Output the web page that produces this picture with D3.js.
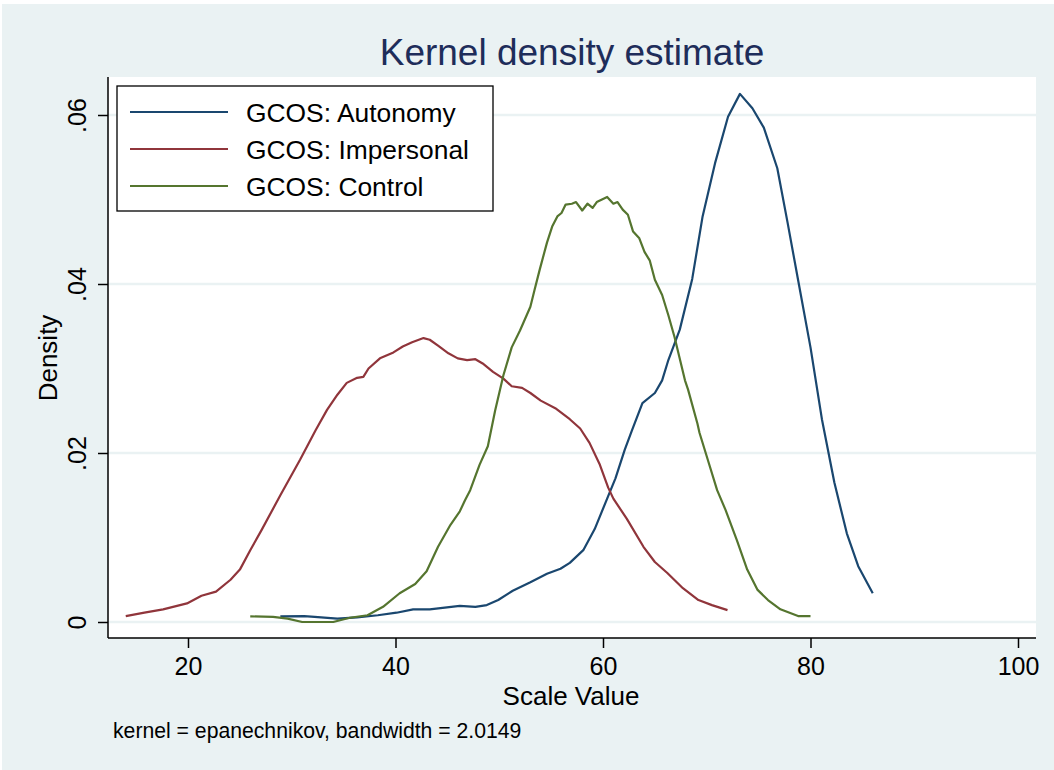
<!DOCTYPE html>
<html>
<head>
<meta charset="utf-8">
<script src="https://cdn.jsdelivr.net/npm/d3@7"></script>
<style>
  body { margin: 0; background: #fff; }
  text { font-family: "Liberation Sans", Arial, sans-serif; }
</style>
</head>
<body>
<script>
// tick values
var xTicks = [20, 40, 60, 80, 100];
var yTicks = [0, 0.02, 0.04, 0.06];
var yTickLabels = ["0", ".02", ".04", ".06"];

// series (scale value, density)
var autonomyX = [28.9, 31.2, 32.2, 34.4, 36.3, 38.3, 40.1, 41.7, 43.3, 46.2, 47.7, 48.8, 49.9, 51.3, 53.0,
    54.6, 55.9, 56.8, 58.1, 59.2, 60.4, 61.2, 62.1, 62.8, 63.8, 65.0, 65.7, 66.3, 67.4, 68.6, 69.6,
    70.8, 72.05, 73.2, 74.4, 75.5, 76.8, 77.8, 78.8, 80.0, 81.1, 82.3, 83.5, 84.6, 86.0];
var autonomyD = [0.00067, 0.0007, 0.0006, 0.0004, 0.00055, 0.0008, 0.0011, 0.0015, 0.0015, 0.0019, 0.0018, 0.002, 0.0026, 0.0037, 0.0047,
    0.0057, 0.0063, 0.007, 0.0085, 0.011, 0.0146, 0.017, 0.0204, 0.0227, 0.0259, 0.0271, 0.0286, 0.031, 0.0346, 0.0406, 0.048,
    0.0543, 0.0598, 0.0625, 0.0608, 0.0585, 0.0537, 0.0472, 0.0405, 0.0325, 0.024, 0.0165, 0.0105, 0.0066, 0.0034];

var impersonalX = [14.0, 15.8, 17.6, 19.9, 21.3, 22.7, 24.1, 25.0, 26.0, 27.1, 28.9, 30.8, 32.3, 33.4, 34.4,
    35.3, 36.3, 36.9, 37.4, 38.5, 39.8, 40.7, 41.6, 42.7, 43.3, 44.1, 45.1, 46.0, 46.9, 47.7, 48.4,
    49.4, 50.4, 51.2, 52.2, 53.0, 54.0, 55.4, 56.8, 57.8, 58.7, 59.7, 60.5, 61.0, 62.3, 63.9, 65.0,
    66.2, 67.7, 69.2, 70.5, 72.0];
var impersonalD = [0.0007, 0.0011, 0.0015, 0.0022, 0.0031, 0.0036, 0.005, 0.0062, 0.0085, 0.0109, 0.015, 0.0192, 0.0227, 0.0251, 0.0269,
    0.0283, 0.0289, 0.029, 0.03, 0.0312, 0.0319, 0.0326, 0.0331, 0.0336, 0.0334, 0.0327, 0.0318, 0.0312, 0.031, 0.0311, 0.0306,
    0.0296, 0.0288, 0.0279, 0.0277, 0.0271, 0.0262, 0.0253, 0.024, 0.0229, 0.0212, 0.0186, 0.0159, 0.0146, 0.0122, 0.0089, 0.0071,
    0.0058, 0.004, 0.0026, 0.002, 0.0014];

var controlX = [26.0, 28.2, 29.6, 31.0, 34.0, 35.6, 37.3, 38.8, 40.4, 41.9, 43.0, 44.1, 45.3, 46.2, 46.7,
    47.2, 48.1, 48.9, 49.6, 50.4, 51.2, 52.0, 53.0, 53.4, 53.9, 54.6, 55.1, 55.6, 56.0, 56.4, 57.0,
    57.4, 58.0, 58.5, 59.0, 59.4, 59.9, 60.4, 61.0, 61.4, 61.9, 62.4, 62.9, 63.5, 64.0, 64.5, 65.0,
    65.7, 66.3, 66.9, 67.9, 68.2, 69.1, 69.3, 70.1, 71.0, 71.8, 72.9, 73.9, 74.9, 75.9, 77.1, 78.8, 80.0];
var controlD = [0.00067, 0.0006, 0.0004, 0.0, 0.0, 0.0005, 0.0008, 0.0018, 0.0034, 0.0045, 0.006, 0.0089, 0.0115, 0.0131, 0.0144,
    0.0156, 0.0186, 0.0208, 0.025, 0.0292, 0.0325, 0.0345, 0.0373, 0.0393, 0.0417, 0.0449, 0.0468, 0.048, 0.0484, 0.0494, 0.0495,
    0.0497, 0.0487, 0.0495, 0.049, 0.0497, 0.05, 0.0503, 0.0495, 0.0497, 0.0488, 0.0482, 0.0462, 0.0454, 0.0438, 0.0428, 0.0405,
    0.0387, 0.0363, 0.0337, 0.0286, 0.0275, 0.0235, 0.0224, 0.0192, 0.0156, 0.0133, 0.0097, 0.0062, 0.0038, 0.0026, 0.0015, 0.0007, 0.0007];

var seriesNames = ["GCOS: Autonomy", "GCOS: Impersonal", "GCOS: Control"];
var seriesColors = ["#1a476f", "#90353b", "#55752f"];

var W = 1054, H = 770;
var plot = { left: 108, right: 1036, top: 77, bottom: 638 };

var svg = d3.select("body").append("svg")
    .attr("width", W)
    .attr("height", H);

// graph region background
svg.append("rect")
    .attr("x", 2).attr("y", 4)
    .attr("width", W - 2).attr("height", H - 4)
    .attr("fill", "#eaf2f3");

// plot region
svg.append("rect")
    .attr("x", plot.left).attr("y", plot.top)
    .attr("width", plot.right - plot.left).attr("height", plot.bottom - plot.top)
    .attr("fill", "#fff");

var x = d3.scaleLinear().domain([20, 100]).range([188, 1018]);
var y = d3.scaleLinear().domain([0, 0.06]).range([622, 115]);

// gridlines
svg.selectAll(".grid")
    .data(yTicks)
    .enter()
    .append("line")
    .attr("class", "grid")
    .attr("x1", plot.left).attr("x2", plot.right)
    .attr("y1", function(d) { return y(d); })
    .attr("y2", function(d) { return y(d); })
    .attr("stroke", "#eaf2f3")
    .attr("stroke-width", 2.5);

// curves
var series = [
    { x: autonomyX, d: autonomyD },
    { x: impersonalX, d: impersonalD },
    { x: controlX, d: controlD }
];
var line = d3.line()
    .x(function(p) { return x(p[0]); })
    .y(function(p) { return y(p[1]); });

series.forEach(function(s, i) {
    svg.append("path")
        .datum(d3.zip(s.x, s.d))
        .attr("d", line)
        .attr("fill", "none")
        .attr("stroke", seriesColors[i])
        .attr("stroke-width", 2.2)
        .attr("stroke-linejoin", "round");
});

// y axis
var yAxis = svg.append("g")
    .attr("transform", "translate(" + plot.left + ",0)")
    .call(d3.axisLeft(y).tickValues(yTicks).tickSize(10).tickPadding(0)
        .tickFormat(function(d, i) { return yTickLabels[i]; }));
yAxis.select(".domain").attr("d", "M0," + plot.top + "V" + plot.bottom).attr("stroke-width", 1.5);
yAxis.selectAll(".tick line").attr("stroke-width", 1.5);
yAxis.selectAll(".tick text")
    .attr("x", null).attr("dy", null)
    .attr("transform", "translate(-22,0) rotate(-90)")
    .attr("text-anchor", "middle")
    .style("font-size", "25px")
    .attr("fill", "#000");

// x axis
var xAxis = svg.append("g")
    .attr("transform", "translate(0," + plot.bottom + ")")
    .call(d3.axisBottom(x).tickValues(xTicks).tickSize(10).tickPadding(8));
xAxis.select(".domain").attr("d", "M" + plot.left + ",0H" + plot.right).attr("stroke-width", 1.5);
xAxis.selectAll(".tick line").attr("stroke-width", 1.5);
xAxis.selectAll(".tick text")
    .attr("y", null).attr("dy", null)
    .attr("transform", "translate(0,37)")
    .style("font-size", "25px")
    .attr("fill", "#000");
svg.selectAll(".tick text").attr("font-family", "Liberation Sans, Arial, sans-serif");

// titles
svg.append("text")
    .attr("x", 572).attr("y", 65)
    .attr("text-anchor", "middle")
    .style("font-size", "37px")
    .attr("fill", "#1e2d5a")
    .text("Kernel density estimate");

svg.append("text")
    .attr("x", 571).attr("y", 705)
    .attr("text-anchor", "middle")
    .style("font-size", "26px")
    .text("Scale Value");

svg.append("text")
    .attr("transform", "translate(57,358) rotate(-90)")
    .attr("text-anchor", "middle")
    .style("font-size", "26px")
    .text("Density");

svg.append("text")
    .attr("x", 113).attr("y", 738)
    .style("font-size", "21.2px")
    .text("kernel = epanechnikov, bandwidth = 2.0149");

// legend
var legend = svg.append("g");
legend.append("rect")
    .attr("x", 117).attr("y", 86)
    .attr("width", 376).attr("height", 125)
    .attr("fill", "#fff")
    .attr("stroke", "#000")
    .attr("stroke-width", 1.3);

var rows = legend.selectAll(".row")
    .data(seriesNames)
    .enter()
    .append("g")
    .attr("class", "row")
    .attr("transform", function(d, i) { return "translate(0," + (112 + i * 37) + ")"; });
rows.append("line")
    .attr("x1", 130).attr("x2", 228)
    .attr("stroke", function(d, i) { return seriesColors[i]; })
    .attr("stroke-width", 2.2);
rows.append("text")
    .attr("x", 246).attr("y", 10)
    .style("font-size", "26.4px")
    .text(function(d) { return d; });
</script>
</body>
</html>
